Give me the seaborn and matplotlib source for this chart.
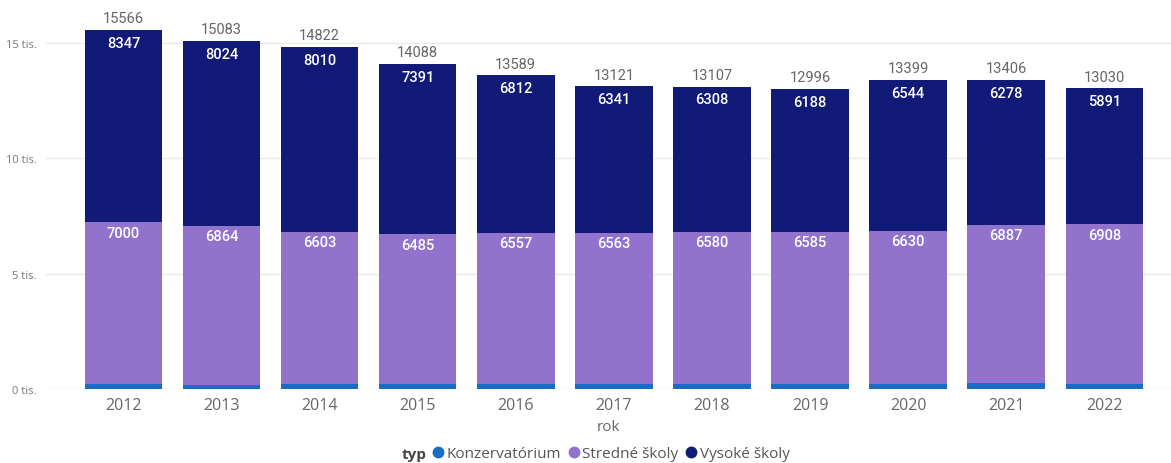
import matplotlib
matplotlib.use("Agg")
import matplotlib.pyplot as plt
import seaborn as sns
import pandas as pd
import numpy as np
from matplotlib.lines import Line2D
from matplotlib.ticker import FixedLocator

years = ["2012", "2013", "2014", "2015", "2016", "2017", "2018", "2019", "2020", "2021", "2022"]
konzervatorium = [219, 195, 209, 212, 220, 217, 219, 223, 225, 241, 231]
stredne = [7000, 6864, 6603, 6485, 6557, 6563, 6580, 6585, 6630, 6887, 6908]
vysoke = [8347, 8024, 8010, 7391, 6812, 6341, 6308, 6188, 6544, 6278, 5891]
series_names = ["Konzervatórium", "Stredné školy", "Vysoké školy"]
colors = ["#1A6CC4", "#9173CE", "#121A78"]
yticks = [0, 5000, 10000, 15000]
ytick_labels = ["0 tis.", "5 tis.", "10 tis.", "15 tis."]

sns.set_style("white")
plt.rcParams["font.family"] = ["Open Sans", "DejaVu Sans"]

df = pd.DataFrame({"rok": years, "k": konzervatorium, "s": stredne, "v": vysoke})
df["c1"] = df["k"]
df["c2"] = df["k"] + df["s"]
df["c3"] = df["c2"] + df["v"]

fig = plt.figure(figsize=(11.71, 4.64), dpi=100)
ax = fig.add_axes([45 / 1171, 74 / 464, 1 - 45 / 1171, 1 - 74 / 464])

w = 0.79
for col, c in [("c3", colors[2]), ("c2", colors[1]), ("c1", colors[0])]:
    sns.barplot(data=df, x="rok", y=col, color=c, width=w, linewidth=0,
                saturation=1, ax=ax, zorder=3)

ax.set_xlim(-0.8, 10.68)
ax.set_ylim(0, 16900)
ax.yaxis.set_major_locator(FixedLocator(yticks))
ax.set_yticklabels(ytick_labels)
ax.grid(axis="y", color="#EAEAEA", linewidth=1, zorder=0)
ax.grid(axis="x", visible=False)
for s in ax.spines.values():
    s.set_visible(False)
ax.tick_params(axis="y", labelsize=8, labelcolor="#777777", length=0, pad=6)
ax.tick_params(axis="x", labelsize=11.5, labelcolor="#666666", length=0, pad=6)
ax.set_ylabel("")
ax.set_xlabel("rok", fontsize=11, color="#666666", labelpad=4)

lab_font = dict(family=["Roboto", "DejaVu Sans"], fontsize=10.5)
for i in range(len(years)):
    tot = df["c3"][i]
    ax.text(i, tot + 200, f"{tot}", ha="center", va="bottom", color="#666666", **lab_font)
    ax.text(i, tot - 560, f"{vysoke[i]}", ha="center", va="center", color="white",
            fontweight="medium", zorder=5, **lab_font)
    ax.text(i, df["c2"][i] - 450, f"{stredne[i]}", ha="center", va="center", color="white",
            fontweight="medium", zorder=5, **lab_font)

handles = [Line2D([0], [0], marker="o", linestyle="", markersize=7.5,
                  markerfacecolor=c, markeredgecolor=c) for c in colors]
fig.text(402 / 1171, 1 - 455 / 464, "typ", fontsize=11, fontweight="bold",
         color="#444444", ha="left", va="center")
fig.legend(handles, series_names, loc="center left", bbox_to_anchor=(431 / 1171, 1 - 455 / 464),
           ncol=3, frameon=False, fontsize=11, handletextpad=0.1, columnspacing=0.4,
           handlelength=0.9, borderaxespad=0, borderpad=0, labelcolor="#555555")

fig.savefig("out.png", dpi=100)
